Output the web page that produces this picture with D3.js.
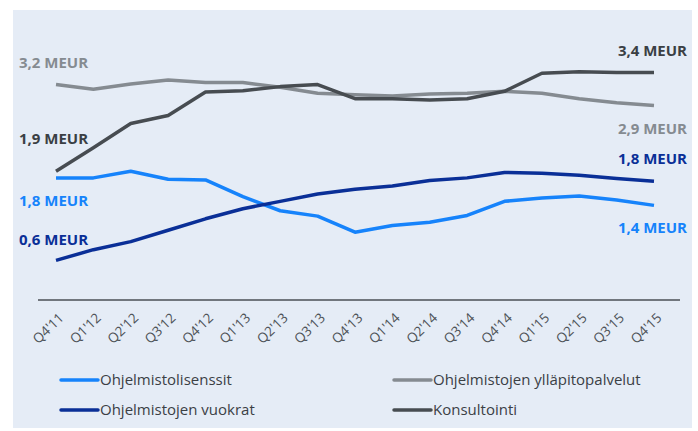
<!DOCTYPE html>
<html>
<head>
<meta charset="utf-8">
<script src="https://cdn.jsdelivr.net/npm/d3@7"></script>
<style>
  body { margin: 0; background: #fff; }
  svg { display: block; font-family: "Open Sans", sans-serif; }
</style>
</head>
<body>
<svg id="chart"></svg>
<script>
// quarters on the x axis
var quarters = ["Q4'11", "Q1'12", "Q2'12", "Q3'12", "Q4'12", "Q1'13", "Q2'13", "Q3'13", "Q4'13",
                "Q1'14", "Q2'14", "Q3'14", "Q4'14", "Q1'15", "Q2'15", "Q3'15", "Q4'15"];

// MEUR per quarter
var lisenssit  = [1.82, 1.82, 1.92, 1.80, 1.79, 1.54, 1.33, 1.25, 1.01, 1.11, 1.16, 1.26, 1.47, 1.52, 1.55, 1.49, 1.41];
var yllapito   = [3.21, 3.14, 3.22, 3.28, 3.24, 3.24, 3.17, 3.08, 3.06, 3.04, 3.07, 3.08, 3.11, 3.08, 3.00, 2.94, 2.90];
var vuokrat    = [0.59, 0.75, 0.87, 1.04, 1.21, 1.36, 1.47, 1.58, 1.65, 1.70, 1.78, 1.82, 1.90, 1.89, 1.86, 1.81, 1.77];
var konsultointi = [1.92, 2.27, 2.63, 2.75, 3.10, 3.12, 3.18, 3.21, 3.00, 3.00, 2.98, 3.00, 3.11, 3.38, 3.40, 3.39, 3.39];

var seriesNames = ["Ohjelmistolisenssit", "Ohjelmistojen ylläpitopalvelut", "Ohjelmistojen vuokrat", "Konsultointi"];
var startLabels = ["1,8 MEUR", "3,2 MEUR", "0,6 MEUR", "1,9 MEUR"];
var endLabels   = ["1,4 MEUR", "2,9 MEUR", "1,8 MEUR", "3,4 MEUR"];

var width = 698, height = 431;

var series = [
  { name: seriesNames[0], values: lisenssit,    color: "#1683fb", label: "#1683fb", start: startLabels[0], end: endLabels[0], dyStart: 23,  dyEnd: 22 },
  { name: seriesNames[1], values: yllapito,     color: "#858b91", label: "#858b91", start: startLabels[1], end: endLabels[1], dyStart: -22, dyEnd: 23 },
  { name: seriesNames[2], values: vuokrat,      color: "#0a2f97", label: "#0a2f97", start: startLabels[2], end: endLabels[2], dyStart: -21, dyEnd: -22 },
  { name: seriesNames[3], values: konsultointi, color: "#474c51", label: "#3a3f44", start: startLabels[3], end: endLabels[3], dyStart: -32, dyEnd: -22 }
];

var svg = d3.select("#chart")
    .attr("width", width)
    .attr("height", height);

// panel background
svg.append("rect")
    .attr("x", 13).attr("y", 10)
    .attr("width", 679).attr("height", 418)
    .attr("fill", "#e5ecf6");

var x = d3.scalePoint()
    .domain(quarters)
    .range([56, 654]);

var y = d3.scaleLinear()
    .domain([0, 4])
    .range([300, 31.6]);

// baseline
svg.append("line")
    .attr("x1", 38).attr("x2", 680)
    .attr("y1", y(0)).attr("y2", y(0))
    .attr("stroke", "#4a4f55")
    .attr("stroke-width", 1.5);

var xAxis = svg.append("g")
    .attr("transform", "translate(0," + y(0) + ")")
    .call(d3.axisBottom(x).tickSize(0).tickPadding(0));

xAxis.select(".domain").remove();
xAxis.selectAll("text")
    .attr("fill", "#4d5257")
    .style("font-size", "13.5px")
    .style("font-family", "'Open Sans', sans-serif")
    .attr("text-anchor", "end")
    .attr("dy", 0)
    .attr("transform", "translate(8,19) rotate(-44)");

var line = d3.line()
    .x(function(d, i) { return x(quarters[i]); })
    .y(function(d) { return y(d); });

svg.append("g")
    .selectAll("path")
    .data(series)
    .enter().append("path")
      .attr("d", function(d) { return line(d.values); })
      .attr("fill", "none")
      .attr("stroke", function(d) { return d.color; })
      .attr("stroke-width", 3.5)
      .attr("stroke-linejoin", "round");

// start / end value labels
var labels = svg.append("g")
    .style("font-weight", 700)
    .style("font-size", "15px");

labels.selectAll("text.start")
    .data(series)
    .enter().append("text")
      .attr("class", "start")
      .attr("x", 19)
      .attr("y", function(d) { return y(d.values[0]) + d.dyStart; })
      .attr("dy", "0.35em")
      .attr("fill", function(d) { return d.label; })
      .text(function(d) { return d.start; });

labels.selectAll("text.end")
    .data(series)
    .enter().append("text")
      .attr("class", "end")
      .attr("x", 687)
      .attr("text-anchor", "end")
      .attr("y", function(d) { return y(d.values[d.values.length - 1]) + d.dyEnd; })
      .attr("dy", "0.35em")
      .attr("fill", function(d) { return d.label; })
      .text(function(d) { return d.end; });

// legend, two columns
var legend = svg.append("g")
    .selectAll("g")
    .data(series)
    .enter().append("g")
      .attr("transform", function(d, i) {
        return "translate(" + (i % 2 === 0 ? 61 : 394) + "," + (i < 2 ? 380 : 410) + ")";
      });

legend.append("line")
    .attr("x1", 0).attr("x2", 37)
    .attr("stroke", function(d) { return d.color; })
    .attr("stroke-width", 3.5)
    .attr("stroke-linecap", "round");

legend.append("text")
    .attr("x", 39)
    .attr("dy", "0.35em")
    .attr("fill", "#3b4045")
    .style("font-size", "15px")
    .text(function(d) { return d.name; });
</script>
</body>
</html>
